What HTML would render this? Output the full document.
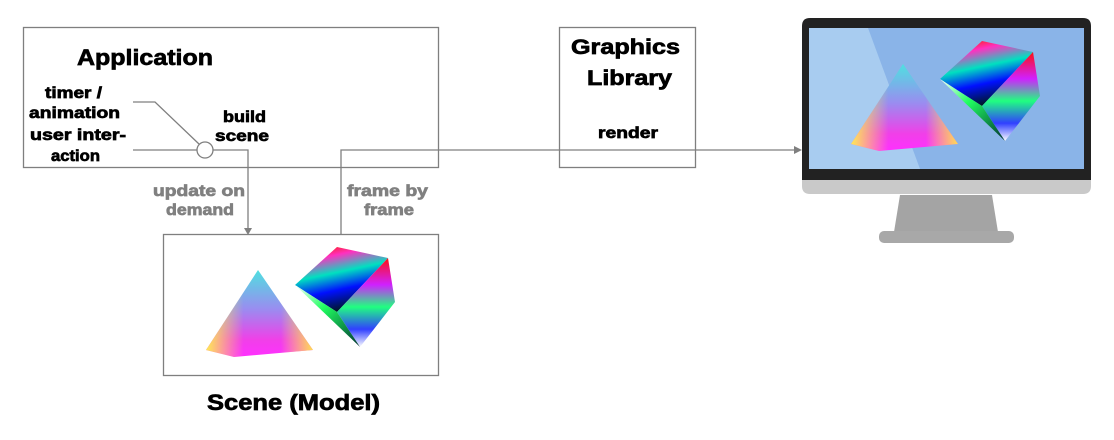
<!DOCTYPE html>
<html><head><meta charset="utf-8"><style>html,body{margin:0;padding:0;background:#fff}svg{display:block}text{font-family:"Liberation Sans",Arial,sans-serif;font-weight:bold;stroke-width:0.7}</style></head>
<body>
<svg width="1114" height="440" viewBox="0 0 1114 440" xmlns="http://www.w3.org/2000/svg">
<defs>
<linearGradient id="pyr" x1="0" y1="0" x2="0" y2="1"><stop offset="0" stop-color="#4fe0e0"/><stop offset="0.45" stop-color="#9a8cf0"/><stop offset="0.8" stop-color="#f040e8"/><stop offset="1" stop-color="#ff30ff"/></linearGradient>
<linearGradient id="pyr2" x1="0" y1="0" x2="1" y2="0"><stop offset="0" stop-color="#ffff40" stop-opacity="0.9"/><stop offset="0.35" stop-color="#ffff40" stop-opacity="0"/><stop offset="0.7" stop-color="#ffff40" stop-opacity="0"/><stop offset="1" stop-color="#ffee40" stop-opacity="0.9"/></linearGradient>
<linearGradient id="c1" x1="0.3" y1="0" x2="0.6" y2="1"><stop offset="0" stop-color="#ff2020"/><stop offset="0.15" stop-color="#ff30c0"/><stop offset="0.4" stop-color="#00e0c0"/><stop offset="0.65" stop-color="#0010ff"/><stop offset="1" stop-color="#001800"/></linearGradient>
<linearGradient id="c2" x1="0" y1="0" x2="0" y2="1"><stop offset="0" stop-color="#ff1010"/><stop offset="0.3" stop-color="#d020ff"/><stop offset="0.55" stop-color="#20ff80"/><stop offset="0.8" stop-color="#3040ff"/><stop offset="1" stop-color="#ffffff"/></linearGradient>
<linearGradient id="c3" x1="0" y1="0" x2="1" y2="1"><stop offset="0" stop-color="#ffffff"/><stop offset="0.4" stop-color="#20ff60"/><stop offset="1" stop-color="#003030"/></linearGradient>
<g id="objs">
<polygon points="258,270 206,350 234,357 313,350" fill="url(#pyr)"/>
<polygon points="258,270 206,350 234,357 313,350" fill="url(#pyr2)"/>
<polygon points="295,285 337,247 388,258 337,312" fill="url(#c1)"/>
<polygon points="388,258 395,302 360,347 337,312" fill="url(#c2)"/>
<polygon points="295,285 337,312 360,347" fill="url(#c3)"/>
</g>
</defs>
<g fill="none" stroke="#7f7f7f" stroke-width="1.3">
<rect x="23.5" y="27.5" width="415" height="140"/>
<rect x="559.5" y="27.5" width="136" height="140"/>
<rect x="163.5" y="234.5" width="275" height="141"/>
<polyline points="133,102 155,102 199,144"/>
<line x1="133" y1="150" x2="197" y2="150"/>
<polyline points="213,150 248,150 248,229"/>
<polyline points="341,234 341,150 795,150"/>
</g>
<circle cx="205" cy="150" r="8" fill="#fff" stroke="#7f7f7f" stroke-width="1.3"/>
<polygon points="244,228 252,228 248,235" fill="#7f7f7f"/>
<polygon points="794,146 794,154 802,150" fill="#7f7f7f"/>
<g stroke="#000">
<text x="77" y="65" font-size="22" textLength="136" lengthAdjust="spacingAndGlyphs">Application</text>
<text x="45" y="98" font-size="16" textLength="57" lengthAdjust="spacingAndGlyphs">timer /</text>
<text x="29" y="118" font-size="16" textLength="91" lengthAdjust="spacingAndGlyphs">animation</text>
<text x="30" y="140" font-size="16" textLength="96" lengthAdjust="spacingAndGlyphs">user inter-</text>
<text x="51" y="161" font-size="16" textLength="49" lengthAdjust="spacingAndGlyphs">action</text>
<text x="223" y="122" font-size="16" textLength="43" lengthAdjust="spacingAndGlyphs">build</text>
<text x="215" y="141" font-size="16" textLength="54" lengthAdjust="spacingAndGlyphs">scene</text>
<text x="598" y="138" font-size="16" textLength="60" lengthAdjust="spacingAndGlyphs">render</text>
<text x="571" y="54" font-size="21" textLength="109" lengthAdjust="spacingAndGlyphs">Graphics</text>
<text x="587" y="85" font-size="21" textLength="85" lengthAdjust="spacingAndGlyphs">Library</text>
<text x="207" y="410" font-size="22" textLength="173" lengthAdjust="spacingAndGlyphs">Scene (Model)</text>
</g>
<g fill="#808080" stroke="#808080">
<text x="153" y="196" font-size="16" textLength="92" lengthAdjust="spacingAndGlyphs">update on</text>
<text x="166" y="215" font-size="16" textLength="68" lengthAdjust="spacingAndGlyphs">demand</text>
<text x="347" y="196" font-size="16" textLength="81" lengthAdjust="spacingAndGlyphs">frame by</text>
<text x="364" y="215" font-size="16" textLength="50" lengthAdjust="spacingAndGlyphs">frame</text>
</g>
<use href="#objs"/>
<path d="M900,195 L992,195 L998,232 L894,232 Z" fill="#a4a4a4"/>
<rect x="879" y="231" width="135" height="12" rx="5" fill="#a8a8a8"/>
<path d="M802,178 L1091,178 L1091,186 Q1091,194 1083,194 L810,194 Q802,194 802,186 Z" fill="#c9c9c9"/>
<path d="M810,18 L1083,18 Q1091,18 1091,26 L1091,180 L802,180 L802,26 Q802,18 810,18 Z" fill="#222"/>
<rect x="809" y="28" width="275" height="141" fill="#8ab4e8"/>
<polygon points="809,28 868,28 920,169 809,169" fill="#a8ccf0"/>
<use href="#objs" transform="translate(645,-206)"/>
</svg>
</body></html>
